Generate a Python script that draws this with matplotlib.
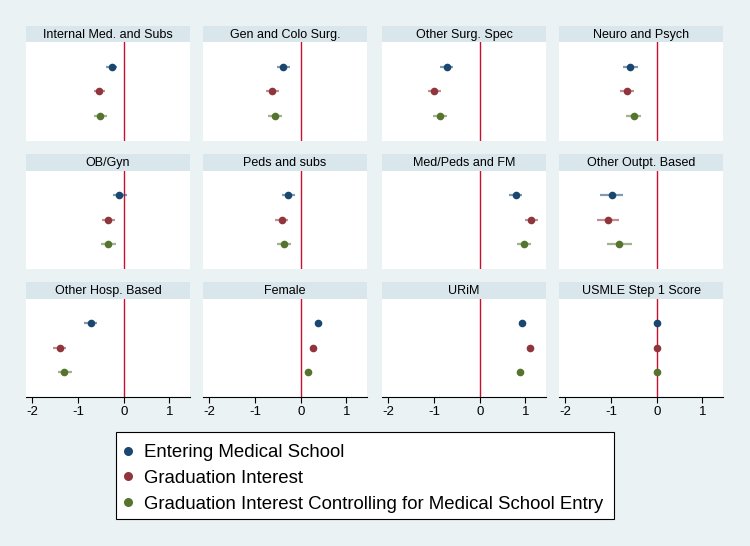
import matplotlib
matplotlib.use("Agg")
import matplotlib.pyplot as plt
from matplotlib.patches import Rectangle
from matplotlib.lines import Line2D

plt.rcParams['font.family'] = ['Liberation Sans', 'DejaVu Sans']

panels = ["Internal Med. and Subs", "Gen and Colo Surg.", "Other Surg. Spec", "Neuro and Psych",
          "OB/Gyn", "Peds and subs", "Med/Peds and FM", "Other Outpt. Based",
          "Other Hosp. Based", "Female", "URiM", "USMLE Step 1 Score"]
series = ["Entering Medical School", "Graduation Interest",
          "Graduation Interest Controlling for Medical School Entry"]

entering_coef = [-0.26, -0.39, -0.72, -0.59, -0.10, -0.27, 0.79, -0.99, -0.72, 0.37, 0.93, 0.00]
entering_lo   = [-0.39, -0.53, -0.87, -0.74, -0.24, -0.41, 0.65, -1.24, -0.86, 0.34, 0.89, -0.01]
entering_hi   = [-0.14, -0.23, -0.58, -0.42, 0.06, -0.13, 0.93, -0.74, -0.58, 0.40, 0.97, 0.01]

grad_coef = [-0.54, -0.62, -1.00, -0.65, -0.34, -0.42, 1.13, -1.06, -1.40, 0.26, 1.09, 0.00]
grad_lo   = [-0.65, -0.77, -1.13, -0.80, -0.47, -0.56, 1.00, -1.30, -1.54, 0.23, 1.05, -0.01]
grad_hi   = [-0.41, -0.47, -0.85, -0.49, -0.19, -0.28, 1.28, -0.82, -1.26, 0.29, 1.13, 0.01]

ctrl_coef = [-0.52, -0.57, -0.87, -0.50, -0.34, -0.37, 0.96, -0.82, -1.30, 0.15, 0.87, 0.00]
ctrl_lo   = [-0.65, -0.72, -1.02, -0.67, -0.50, -0.52, 0.81, -1.08, -1.45, 0.12, 0.83, -0.01]
ctrl_hi   = [-0.37, -0.41, -0.72, -0.34, -0.17, -0.21, 1.12, -0.55, -1.14, 0.18, 0.91, 0.01]

xticks = [-2, -1, 0, 1]
xtick_labels = ["-2", "-1", "0", "1"]

colors = ["#1a476f", "#90353b", "#55752f"]
bg = "#EAF2F3"
bar_col = "#D9E6EB"
zero_col = "#C8102E"

W, H = 750, 546
fig = plt.figure(figsize=(W / 100, H / 100), dpi=100, facecolor=bg)

col_left = [26, 203, 382, 559]
col_w = 164
row_bar_top = [26, 154, 282]
bar_h = 16.5
plot_h = 98

data = [(entering_coef, entering_lo, entering_hi),
        (grad_coef, grad_lo, grad_hi),
        (ctrl_coef, ctrl_lo, ctrl_hi)]

for i, name in enumerate(panels):
    r, c = divmod(i, 4)
    x0 = col_left[c]
    ytop = row_bar_top[r] + bar_h
    ax = fig.add_axes([x0 / W, 1 - (ytop + plot_h) / H, col_w / W, plot_h / H])
    ax.set_facecolor("white")
    fig.patches.append(Rectangle((x0 / W, 1 - ytop / H), col_w / W, bar_h / H,
                                 transform=fig.transFigure, facecolor=bar_col,
                                 edgecolor="none", zorder=0))
    fig.text((x0 + col_w / 2) / W, 1 - (row_bar_top[r] + bar_h / 2 + 0.5) / H, name,
             ha="center", va="center", fontsize=9, color="black")
    ax.axvline(0, color=zero_col, lw=1.0, zorder=1)
    for k, (coef, lo, hi) in enumerate(data):
        y = k + 1
        ax.plot([lo[i], hi[i]], [y, y], color=colors[k], lw=1.6, alpha=0.55,
                solid_capstyle="butt", zorder=2)
        ax.plot([coef[i]], [y], marker="o", ms=5.5, color=colors[k],
                markeredgewidth=0, zorder=3)
    ax.set_xlim(-2.14, 1.45)
    ax.set_ylim(4, 0)
    ax.set_yticks([])
    for s in ["top", "left", "right"]:
        ax.spines[s].set_visible(False)
    if r == 2:
        ax.spines["bottom"].set_color("black")
        ax.spines["bottom"].set_linewidth(0.8)
        ax.set_xticks(xticks)
        ax.set_xticklabels(xtick_labels)
        ax.tick_params(axis="x", length=4.5, width=0.8, labelsize=9.5, pad=2)
    else:
        ax.spines["bottom"].set_visible(False)
        ax.set_xticks([])

# legend box
fig.patches.append(Rectangle((116 / W, 1 - 519 / H), (614 - 116) / W, (519 - 432) / H,
                             transform=fig.transFigure, facecolor="white",
                             edgecolor="black", linewidth=0.8, zorder=0))
handles = [Line2D([], [], marker="o", ls="none", ms=6.5, color=colors[k],
                  markeredgewidth=0) for k in range(3)]
leg = fig.legend(handles, series, loc="upper left",
                 bbox_to_anchor=(113 / W, 1 - 436 / H), fontsize=13.4,
                 frameon=False, handlelength=0.7, handletextpad=0.5,
                 labelspacing=0.46, borderpad=0.45, borderaxespad=0)

fig.savefig("out.png", dpi=100, facecolor=bg)
